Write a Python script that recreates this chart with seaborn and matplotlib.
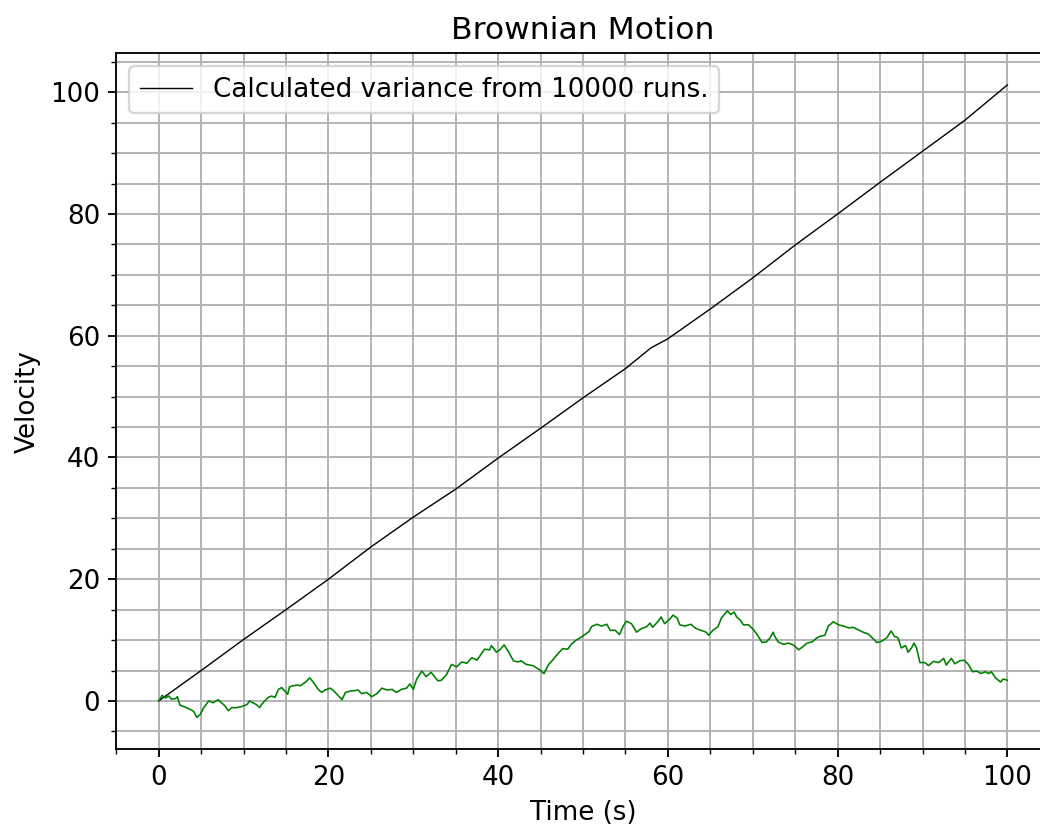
import matplotlib
matplotlib.use("Agg")
import matplotlib.pyplot as plt
from matplotlib.ticker import MultipleLocator
import seaborn as sns

# Variance curve (black)
var_t = [0, 5, 10, 15, 20, 25, 30, 35, 40, 45, 50, 55, 58, 60, 65, 70, 75, 80, 85, 90, 95, 100]
var_v = [0, 5.0, 10.1, 15.0, 20.0, 25.3, 30.2, 34.8, 39.9, 44.8, 49.8, 54.6, 58.0, 59.5,
         64.4, 69.5, 74.9, 80.0, 85.2, 90.3, 95.4, 101.2]

# Single Brownian path (green)
path_t = [0, 0.4, 0.8, 1.2, 1.5, 2.0, 2.2, 2.5, 3.1, 3.7, 4.1, 4.5, 4.9, 5.3, 5.9, 6.4, 7.0,
          7.4, 7.8, 8.2, 8.6, 9.2, 9.8, 10.4, 10.7, 11.1, 11.5, 11.9, 12.1, 12.5, 12.9, 13.3,
          13.7, 14.1, 14.5, 14.8, 15.2, 15.4, 15.8, 16.4, 16.7, 17.3, 17.8, 18.2, 18.8, 19.2,
          19.6, 20.2, 20.6, 21.0, 21.6, 22.0, 22.5, 23.1, 23.5, 23.9, 24.5, 25.1, 25.7, 26.3,
          26.9, 27.5, 28.0, 28.6, 29.2, 29.6, 30.0, 30.4, 31.0, 31.5, 32.1, 32.5, 32.9, 33.3,
          33.7, 33.9, 34.5, 35.1, 35.7, 36.3, 36.9, 37.5, 38.0, 38.4, 39.0, 39.2, 39.8, 40.2,
          40.7, 41.2, 41.8, 42.3, 42.7, 43.3, 44.1, 44.9, 45.4, 45.9, 46.4, 47.0, 47.6, 48.2,
          48.6, 49.2, 49.8, 50.3, 50.7, 51.0, 51.6, 52.2, 52.8, 53.2, 53.8, 54.3, 54.7, 55.1,
          55.7, 56.3, 56.9, 57.5, 57.9, 58.2, 58.8, 59.2, 59.6, 60.2, 60.6, 61.1, 61.4, 62.0,
          62.7, 63.3, 63.9, 64.5, 64.8, 65.3, 65.9, 66.3, 67.0, 67.4, 67.8, 68.1, 68.5, 68.9,
          69.5, 70.1, 70.7, 71.1, 71.6, 72.0, 72.4, 72.6, 73.0, 73.6, 74.2, 74.8, 75.4, 75.8,
          76.4, 77.0, 77.5, 77.9, 78.5, 78.9, 79.5, 80.1, 80.7, 81.3, 81.8, 82.4, 83.0, 83.6,
          84.2, 84.6, 85.0, 85.4, 85.8, 86.3, 86.7, 87.1, 87.5, 88.0, 88.3, 88.7, 89.0, 89.3,
          89.7, 90.3, 90.7, 91.3, 91.9, 92.5, 92.8, 93.4, 93.8, 94.4, 94.9, 95.4, 95.9, 96.4,
          96.9, 97.4, 97.8, 98.1, 98.6, 99.2, 99.5, 100.0]
path_v = [0, 0.9, 0.5, 0.8, 0.3, 0.4, 0.7, -0.7, -1.0, -1.4, -1.7, -2.7, -2.2, -1.1, 0.0, -0.3, 0.2,
          -0.3, -0.8, -1.6, -1.1, -1.1, -0.9, -0.6, 0.0, -0.3, -0.6, -1.1, -0.6, 0.0, 0.6, 0.8,
          0.6, 1.9, 2.2, 1.7, 1.1, 2.3, 2.5, 2.6, 2.5, 3.1, 3.8, 3.1, 1.9, 1.4,
          1.8, 2.1, 1.7, 1.1, 0.2, 1.4, 1.6, 1.7, 1.8, 1.2, 1.4, 0.7, 1.2, 2.1,
          1.8, 1.9, 1.4, 1.9, 2.1, 2.8, 1.9, 3.6, 4.9, 4.0, 4.7, 4.0, 3.3, 3.4,
          4.0, 4.3, 6.0, 5.6, 6.4, 6.2, 7.1, 6.7, 7.7, 8.5, 8.4, 9.1, 8.0, 8.4,
          9.2, 8.1, 6.6, 6.4, 6.6, 6.0, 5.8, 5.1, 4.5, 5.9, 6.7, 7.7, 8.6, 8.5,
          9.3, 10.0, 10.5, 11.0, 11.4, 12.2, 12.6, 12.3, 12.6, 11.6, 11.6, 10.9, 12.2, 13.1,
          12.7, 11.3, 11.9, 12.2, 12.8, 12.1, 13.0, 13.8, 12.7, 13.4, 14.1, 13.6, 12.5, 12.3,
          12.6, 11.9, 11.6, 11.3, 10.8, 11.6, 12.2, 13.6, 14.8, 14.2, 14.6, 13.8, 13.3, 12.5,
          12.5, 11.7, 10.5, 9.6, 9.7, 10.3, 11.3, 10.6, 9.7, 9.3, 9.5, 9.2, 8.4, 8.8,
          9.5, 9.7, 10.3, 10.6, 10.8, 12.3, 13.0, 12.5, 12.3, 12.0, 12.1, 11.7, 11.3, 11.0,
          10.2, 9.6, 9.7, 10.0, 10.4, 11.5, 10.6, 10.4, 8.7, 9.1, 8.0, 8.7, 9.5, 8.7,
          6.3, 6.3, 5.8, 6.5, 6.3, 7.0, 5.9, 7.0, 6.1, 6.6, 6.7, 6.0, 4.8, 4.9,
          4.5, 4.8, 4.5, 4.8, 3.8, 3.1, 3.6, 3.4]

title = "Brownian Motion"
xlabel = "Time (s)"
ylabel = "Velocity"
legend_label = "Calculated variance from 10000 runs."

DPI = 166.4
plt.rcParams["font.size"] = 11.3
fig = plt.figure(figsize=(1040 / DPI, 827 / DPI), dpi=DPI)
ax = fig.add_axes([116.3 / 1040, 1 - 749 / 827, (1049.8 - 116.3) / 1040, (749 - 53.3) / 827])

sns.lineplot(x=var_t, y=var_v, ax=ax, color="black", linewidth=0.6,
             label=legend_label, sort=False, estimator=None)
sns.lineplot(x=path_t, y=path_v, ax=ax, color="green", linewidth=0.7,
             sort=False, estimator=None)

ax.xaxis.set_minor_locator(MultipleLocator(5))
ax.yaxis.set_minor_locator(MultipleLocator(5))
ax.grid(which="both", color="#b0b0b0", linewidth=0.8)
ax.set_axisbelow(True)
ax.tick_params(labelsize=11.3)
ax.set_title(title, fontsize=13.6)
ax.set_xlabel(xlabel, fontsize=11.3)
ax.set_ylabel(ylabel, fontsize=11.3)
ax.margins(0.05)
ax.legend(loc="upper left", fontsize=11.3)

fig.savefig("out.png", dpi=DPI)
